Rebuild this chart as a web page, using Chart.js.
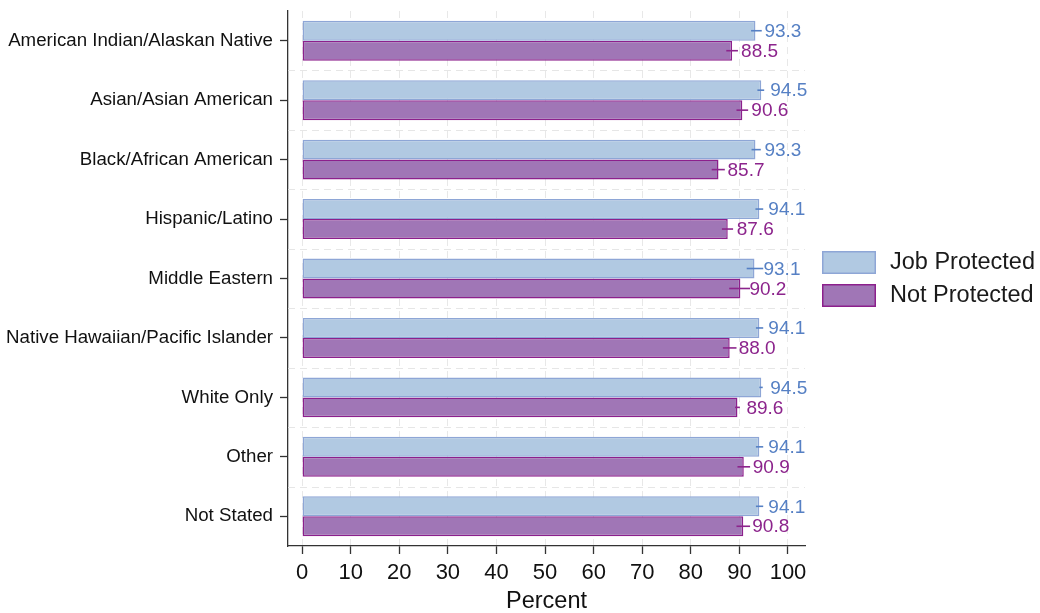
<!DOCTYPE html>
<html>
<head>
<meta charset="utf-8">
<script src="https://cdn.jsdelivr.net/npm/chart.js@4/dist/chart.umd.min.js"></script>
<style>
  html, body { margin: 0; padding: 0; background: #ffffff; }
  #wrap { width: 1040px; height: 613px; }
</style>
</head>
<body>
<div id="wrap"><canvas id="chart" width="1040" height="613"></canvas></div>
<script>
// Race / ethnicity groups
const categories = [
  'American Indian/Alaskan Native',
  'Asian/Asian American',
  'Black/African American',
  'Hispanic/Latino',
  'Middle Eastern',
  'Native Hawaiian/Pacific Islander',
  'White Only',
  'Other',
  'Not Stated'
];

// Percent, job protected
const jobProtected = [93.3, 94.5, 93.3, 94.1, 93.1, 94.1, 94.5, 94.1, 94.1];
const jobLow       = [92.4, 93.7, 92.5, 93.3, 91.5, 93.4, 94.1, 93.4, 93.4];
const jobHigh      = [94.6, 95.1, 94.4, 94.9, 94.9, 94.9, 94.8, 94.9, 94.9];

// Percent, not protected
const notProtected = [88.5, 90.6, 85.7, 87.6, 90.2, 88.0, 89.6, 90.9, 90.8];
const notLow       = [87.3, 89.4, 84.3, 86.4, 87.9, 86.6, 89.1, 89.6, 89.4];
const notHigh      = [89.7, 91.8, 87.0, 88.7, 92.2, 89.4, 90.1, 92.2, 92.2];

const seriesNames = ['Job Protected', 'Not Protected'];
const xTickValues = [0, 10, 20, 30, 40, 50, 60, 70, 80, 90, 100];

const FONT = "'Liberation Sans', Arial, Helvetica, sans-serif";
const BLUE_FILL = 'rgb(177,201,226)';
const BLUE_LINE = 'rgb(142,166,214)';
const BLUE_TEXT = 'rgb(86,128,196)';
const PURP_FILL = 'rgb(160,118,182)';
const PURP_LINE = 'rgb(140,32,140)';
const PURP_TEXT = 'rgb(140,36,140)';

const intervals = [
  { low: jobLow, high: jobHigh, color: BLUE_TEXT },
  { low: notLow, high: notHigh, color: PURP_TEXT }
];

// Dashed separators between category bands
const bandSeparators = {
  id: 'bandSeparators',
  beforeDatasetsDraw(chart) {
    const { ctx, chartArea, scales } = chart;
    const y = scales.y;
    ctx.save();
    ctx.strokeStyle = '#e6e6e6';
    ctx.lineWidth = 1;
    ctx.setLineDash([7, 5]);
    for (let i = 0; i < categories.length - 1; i++) {
      const py = Math.round((y.getPixelForValue(i) + y.getPixelForValue(i + 1)) / 2) + 0.5;
      ctx.beginPath();
      ctx.moveTo(chartArea.left, py);
      ctx.lineTo(chartArea.right, py);
      ctx.stroke();
    }
    ctx.restore();
  }
};

// Confidence interval lines and value labels
const intervalsAndLabels = {
  id: 'intervalsAndLabels',
  afterDatasetsDraw(chart) {
    const { ctx, scales } = chart;
    const x = scales.x;
    chart.data.datasets.forEach((ds, di) => {
      const meta = chart.getDatasetMeta(di);
      const iv = intervals[di];
      meta.data.forEach((bar, i) => {
        const yc = bar.y;
        ctx.save();
        ctx.strokeStyle = iv.color;
        ctx.lineWidth = 1.6;
        ctx.beginPath();
        ctx.moveTo(x.getPixelForValue(iv.low[i]), yc);
        ctx.lineTo(x.getPixelForValue(iv.high[i]), yc);
        ctx.stroke();
        ctx.fillStyle = iv.color;
        ctx.font = '19px ' + FONT;
        ctx.textAlign = 'left';
        ctx.textBaseline = 'middle';
        ctx.fillText(ds.data[i].toFixed(1), x.getPixelForValue(ds.data[i]) + 9, yc + 1);
        ctx.restore();
      });
    });
  }
};

// Legend drawn at the right of the plot
const sideLegend = {
  id: 'sideLegend',
  afterDraw(chart) {
    const { ctx } = chart;
    const items = [
      { fill: BLUE_FILL, line: BLUE_LINE, top: 251 },
      { fill: PURP_FILL, line: PURP_LINE, top: 284 }
    ];
    ctx.save();
    items.forEach((it, k) => {
      ctx.fillStyle = it.fill;
      ctx.fillRect(822, it.top, 54, 23);
      ctx.strokeStyle = it.line;
      ctx.lineWidth = 1.5;
      ctx.strokeRect(822.75, it.top + 0.75, 52.5, 21.5);
      ctx.fillStyle = '#1a1a1a';
      ctx.font = '23.5px ' + FONT;
      ctx.textAlign = 'left';
      ctx.textBaseline = 'middle';
      ctx.fillText(seriesNames[k], 890, it.top + 12);
    });
    ctx.restore();
  }
};

new Chart(document.getElementById('chart'), {
  type: 'bar',
  data: {
    labels: categories,
    datasets: [
      {
        label: seriesNames[0],
        data: jobProtected,
        backgroundColor: BLUE_FILL,
        borderColor: BLUE_LINE,
        borderWidth: 1.5,
        borderSkipped: false
      },
      {
        label: seriesNames[1],
        data: notProtected,
        backgroundColor: PURP_FILL,
        borderColor: PURP_LINE,
        borderWidth: 1.5,
        borderSkipped: false
      }
    ]
  },
  options: {
    indexAxis: 'y',
    responsive: false,
    animation: false,
    maintainAspectRatio: false,
    layout: { padding: { top: 11, right: 235, left: 0, bottom: 0 } },
    datasets: {
      bar: { categoryPercentage: 0.672, barPercentage: 1.0 }
    },
    plugins: {
      legend: { display: false },
      tooltip: { enabled: false }
    },
    scales: {
      x: {
        type: 'linear',
        min: -2.9,
        max: 103.5,
        afterBuildTicks(scale) {
          scale.ticks = xTickValues.map(v => ({ value: v }));
        },
        afterFit(scale) {
          scale.height = 67;
          scale.paddingLeft = 0;
          scale.paddingRight = 0;
        },
        grid: {
          color: '#e8e8e8',
          lineWidth: 1,
          drawTicks: true,
          tickLength: 8,
          tickColor: '#333333',
          tickWidth: 1.3
        },
        border: { display: true, color: '#333333', width: 1.3, dash: [7, 5] },
        ticks: {
          color: '#111111',
          font: { family: FONT, size: 22 },
          padding: 6,
          maxRotation: 0,
          autoSkip: false
        },
        title: {
          display: true,
          text: 'Percent',
          color: '#111111',
          font: { family: FONT, size: 23.5, lineHeight: 1 },
          padding: { top: 0, bottom: 0 }
        }
      },
      y: {
        type: 'category',
        offset: true,
        afterFit(scale) {
          scale.width = 288;
          scale.paddingTop = 0;
          scale.paddingBottom = 0;
        },
        grid: {
          offset: false,
          drawOnChartArea: false,
          drawTicks: true,
          tickLength: 8,
          tickColor: '#333333',
          tickWidth: 1.3
        },
        border: { display: true, color: '#333333', width: 1.3 },
        ticks: {
          color: '#111111',
          font: { family: FONT, size: 18.7 },
          padding: 7,
          autoSkip: false
        }
      }
    }
  },
  plugins: [bandSeparators, intervalsAndLabels, sideLegend]
});
</script>
</body>
</html>
